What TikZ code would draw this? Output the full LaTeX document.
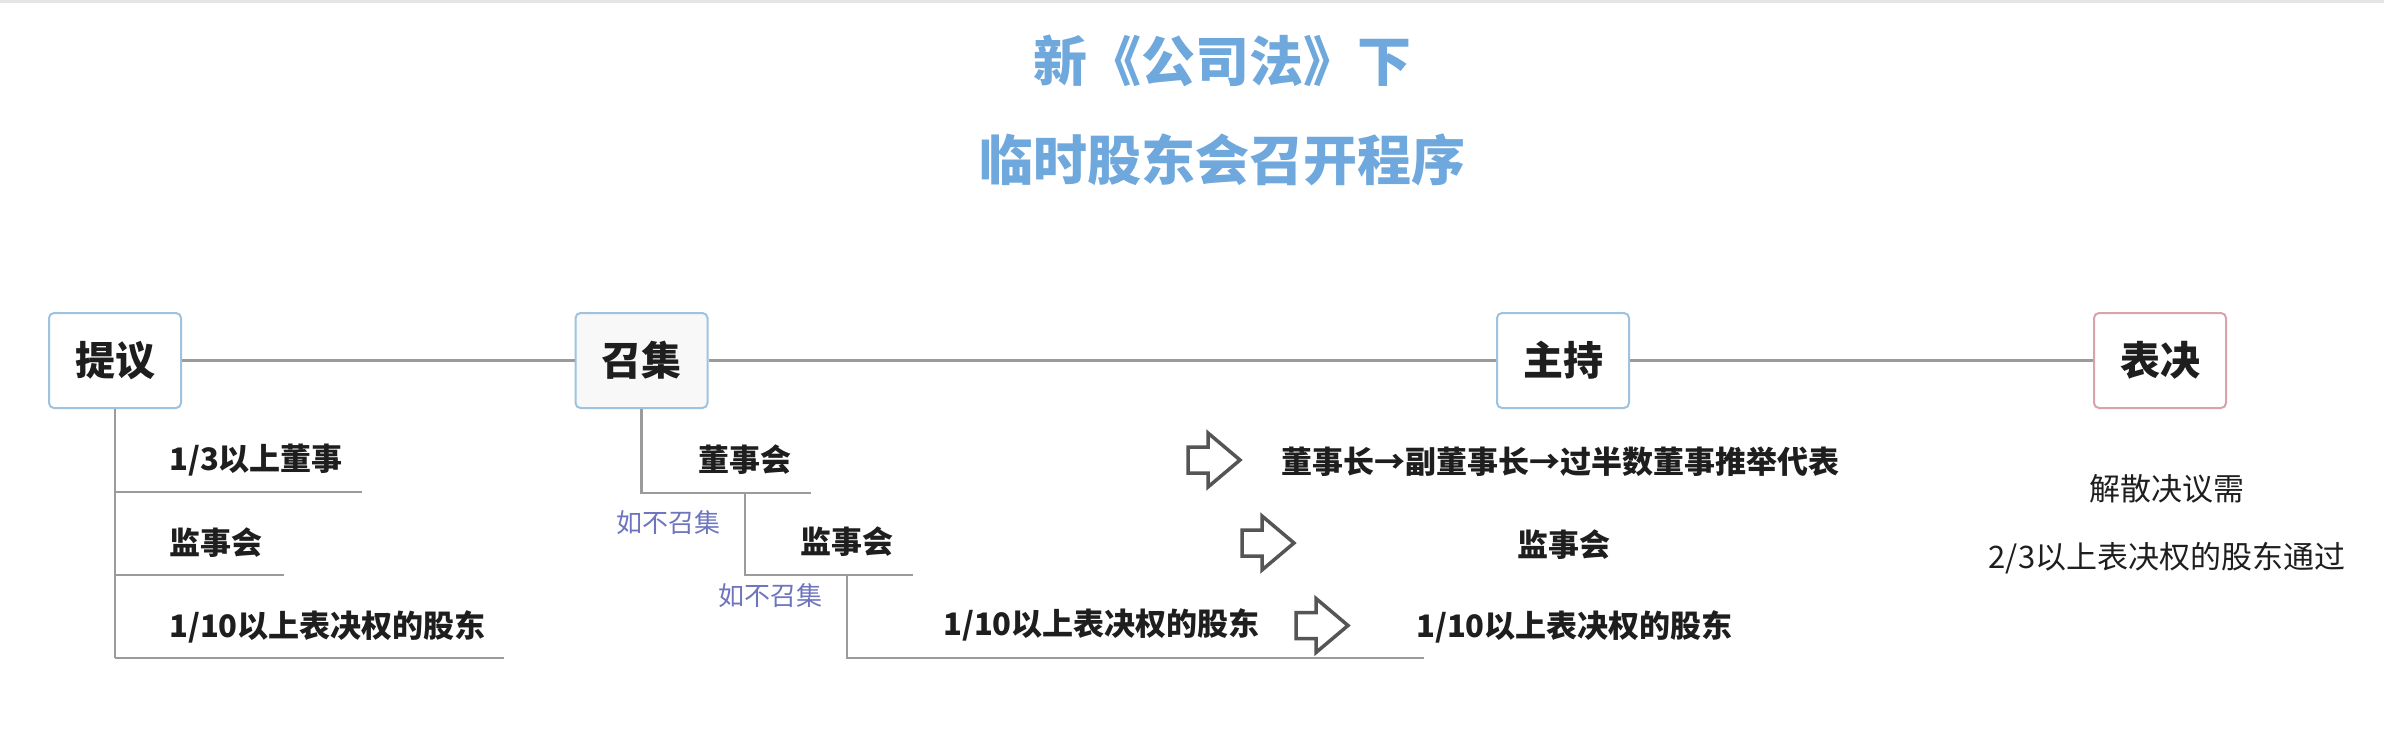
\documentclass[tikz,border=0pt]{standalone}
\usepackage{fontspec}
\setmainfont{Noto Sans CJK SC}
\definecolor{titleblue}{HTML}{6FA8DC}
\definecolor{boxblue}{HTML}{9DC3E0}
\definecolor{boxred}{HTML}{D9A3AA}
\definecolor{labelblue}{HTML}{6E74BE}
\definecolor{linegray}{HTML}{9B9B9B}
\definecolor{arrowgray}{HTML}{555555}
\definecolor{textblack}{HTML}{1E1E1E}
\definecolor{boxfill}{HTML}{F8F8F8}
\tikzset{
  mainbox/.style={draw=boxblue, line width=2pt, rounded corners=5pt, fill=white,
    minimum width=132pt, minimum height=95pt, inner sep=0pt,
    font=\fontsize{40}{40}\selectfont\bfseries, text=textblack},
  mainline/.style={draw=linegray, line width=3pt},
  branch/.style={draw=linegray, line width=2.5pt},
  subtext/.style={inner sep=0pt, font=\fontsize{31}{31}\selectfont\bfseries, text=textblack},
  plaintext/.style={inner sep=0pt, font=\fontsize{31}{31}\selectfont, text=textblack},
  condtext/.style={inner sep=0pt, font=\fontsize{26}{26}\selectfont, text=labelblue},
  titletext/.style={inner sep=0pt, font=\fontsize{54}{54}\selectfont\bfseries, text=titleblue},
  arrowline/.style={draw=arrowgray, line width=3.5pt, line join=miter, fill=white},
  hollowarrow/.pic={\draw[arrowline] (0,-13) -- (20,-13) -- (20,-27) -- (52,0) -- (20,27) -- (20,13) -- (0,13) -- cycle;}
}
\begin{document}
\begin{tikzpicture}[x=1pt,y=-1pt]
\useasboundingbox (0,0) rectangle (2384,751);
\fill[black!10] (0,0) rectangle (2384,3);

% title
\node[titletext] (title1) at (1222,61) {新《公司法》下};
\node[titletext] (title2) at (1222,160) {临时股东会召开程序};

% main boxes
\node[mainbox] (p) at (115,360.5) {提议};
\node[mainbox, fill=boxfill] (z) at (641.5,360.5) {召集};
\node[mainbox] (h) at (1563,360.5) {主持};
\node[mainbox, draw=boxred] (v) at (2160,360.5) {表决};

\draw[mainline] (p.east) -- (z.west);
\draw[mainline] (z.east) -- (h.west);
\draw[mainline] (h.east) -- (v.west);

% proposal branch
\coordinate (p1) at (115,492);
\coordinate (p2) at (115,575);
\coordinate (p3) at (115,658);
\coordinate (p1e) at (362,492);
\coordinate (p2e) at (284,575);
\coordinate (p3e) at (504,658);
\draw[branch] (p.south) -- (p3);
\draw[branch] (p1) -- (p1e);
\draw[branch] (p2) -- (p2e);
\draw[branch] (p3) -- (p3e);
\node[subtext, anchor=west] (pt1) at (169,460) {1/3以上董事};
\node[subtext, anchor=west] (pt2) at (169,543) {监事会};
\node[subtext, anchor=west] (pt3) at (169,627) {1/10以上表决权的股东};

% convene branch
\coordinate (z1) at (641.5,493);
\coordinate (z1e) at (811,493);
\coordinate (z2t) at (745,493);
\coordinate (z2) at (745,575);
\coordinate (z2e) at (912.5,575);
\coordinate (z3t) at (847,575);
\coordinate (z3) at (847,658);
\coordinate (z3e) at (1424,658);
\draw[branch] (z.south) -- (z1) -- (z1e);
\draw[branch] (z2t) -- (z2) -- (z2e);
\draw[branch] (z3t) -- (z3) -- (z3e);
\node[subtext, anchor=west] (zt1) at (698,460) {董事会};
\node[subtext, anchor=west] (zt2) at (800,542) {监事会};
\node[subtext, anchor=west] (zt3) at (943,625) {1/10以上表决权的股东};
\node[condtext, anchor=west] (c1) at (616,523) {如不召集};
\node[condtext, anchor=west] (c2) at (718,596) {如不召集};

% hollow arrows
\pic (a1) at (1188,460) {hollowarrow};
\pic (a2) at (1242,543) {hollowarrow};
\pic (a3) at (1296,625.5) {hollowarrow};

% preside texts
\node[subtext] (ht1) at (1560.5,462) {董事长→副董事长→过半数董事推举代表};
\node[subtext] (ht2) at (1564,545) {监事会};
\node[subtext] (ht3) at (1574.5,627) {1/10以上表决权的股东};

% vote texts
\node[plaintext] (vt1) at (2167,489) {解散决议需};
\node[plaintext] (vt2) at (2167,558) {2/3以上表决权的股东通过};
\end{tikzpicture}
\end{document}
